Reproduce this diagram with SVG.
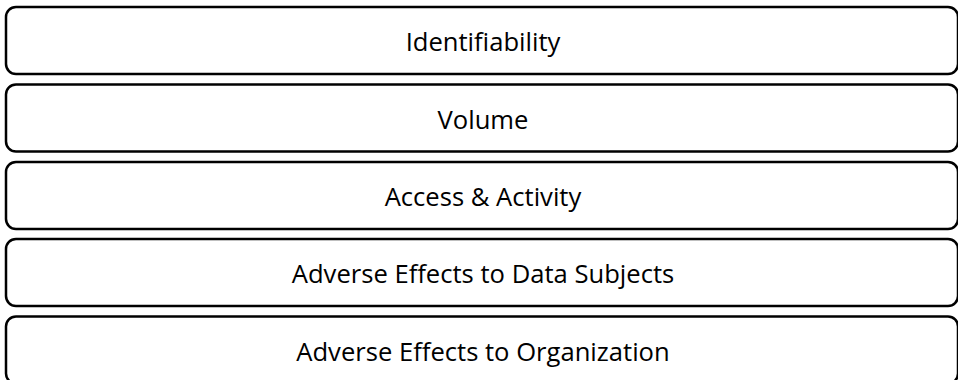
<svg xmlns="http://www.w3.org/2000/svg" width="958" height="380" viewBox="0 0 958 380">
<style>
.box{fill:#fff;stroke:#000;stroke-width:2.5}
.lbl{font-family:"Open Sans","Liberation Sans",sans-serif;font-size:25.6px;fill:#000;text-anchor:middle}
</style>
<rect width="958" height="380" fill="#fff"/>
<g id="identifiability"><rect class="box" x="6" y="7" width="952" height="67" rx="10"/><text class="lbl" x="483" y="51">Identifiability</text></g>
<g id="volume"><rect class="box" x="6" y="84.5" width="952" height="67" rx="10"/><text class="lbl" x="483" y="128.5">Volume</text></g>
<g id="access"><rect class="box" x="6" y="162" width="952" height="67" rx="10"/><text class="lbl" x="483" y="206">Access &amp; Activity</text></g>
<g id="adverse-subjects"><rect class="box" x="6" y="239" width="952" height="67" rx="10"/><text class="lbl" x="483" y="283">Adverse Effects to Data Subjects</text></g>
<g id="adverse-org"><rect class="box" x="6" y="316.5" width="952" height="67" rx="10"/><text class="lbl" x="483" y="361">Adverse Effects to Organization</text></g>
<g id="connectors"></g>
</svg>
